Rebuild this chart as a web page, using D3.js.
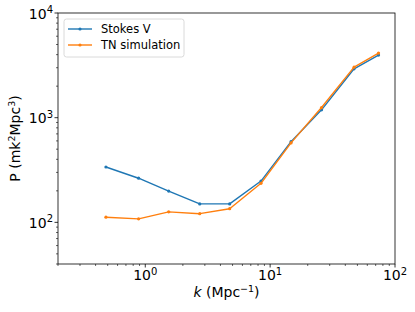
<!DOCTYPE html>
<html>
<head>
<meta charset="utf-8">
<script src="https://cdn.jsdelivr.net/npm/d3@7"></script>
<style>
  body { margin: 0; background: #fff; }
  svg { font-family: "DejaVu Sans", sans-serif; }
</style>
</head>
<body>
<div id="chart"></div>
<script>
// k values (Mpc^-1)
var kVals = [0.484, 0.884, 1.54, 2.73, 4.74, 8.45, 14.7, 25.8, 47, 73.8];
var stokesV = [338, 264, 199, 150, 150, 248, 590, 1188, 2930, 3965];
var tnSim = [112, 108, 126, 121, 135, 236, 574, 1250, 3040, 4140];
var seriesNames = ["Stokes V", "TN simulation"];
var seriesColors = ["#1f77b4", "#ff7f0e"];
var xMajor = [0.1, 1, 10, 100];
var yMajor = [100, 1000, 10000];

var W = 415, H = 312;
var margin = {top: 13, right: 20, bottom: 48, left: 58},
    width = W - margin.left - margin.right,
    height = H - margin.top - margin.bottom;

var svgRoot = d3.select("#chart").append("svg")
    .attr("width", W).attr("height", H);
var svg = svgRoot.append("g")
    .attr("transform", "translate(" + margin.left + "," + margin.top + ")");

var x = d3.scaleLog().domain([0.2, 100]).range([0, width]);
var y = d3.scaleLog().domain([40, 10000]).range([height, 0]);

// minor ticks
function minorTicks(dom) {
  var out = [];
  for (var e = -2; e <= 4; e++) {
    for (var m = 2; m <= 9; m++) {
      var v = m * Math.pow(10, e);
      if (v >= dom[0] * 0.999 && v <= dom[1] * 1.001) out.push(v);
    }
  }
  return out;
}
var xMinor = minorTicks(x.domain());
var yMinor = minorTicks(y.domain());

svg.selectAll(".xminor").data(xMinor).enter().append("line")
  .attr("x1", d => x(d)).attr("x2", d => x(d))
  .attr("y1", height).attr("y2", height + 2)
  .attr("stroke", "#000").attr("stroke-width", 0.6);
svg.selectAll(".yminor").data(yMinor).enter().append("line")
  .attr("x1", -2).attr("x2", 0)
  .attr("y1", d => y(d)).attr("y2", d => y(d))
  .attr("stroke", "#000").attr("stroke-width", 0.6);

var xMaj = xMajor.filter(d => d >= x.domain()[0] && d <= x.domain()[1]);
svg.selectAll(".xmajor").data(xMaj).enter().append("line")
  .attr("x1", d => x(d)).attr("x2", d => x(d))
  .attr("y1", height).attr("y2", height + 3.5)
  .attr("stroke", "#000").attr("stroke-width", 0.8);
svg.selectAll(".ymajor").data(yMajor).enter().append("line")
  .attr("x1", -3.5).attr("x2", 0)
  .attr("y1", d => y(d)).attr("y2", d => y(d))
  .attr("stroke", "#000").attr("stroke-width", 0.8);

function expOf(d) { return Math.round(Math.log10(d)); }

var xl = svg.selectAll(".xlab").data(xMaj).enter().append("text")
  .attr("x", d => x(d)).attr("y", height + 16)
  .attr("text-anchor", "middle")
  .style("font-size", "14px");
xl.append("tspan").text("10");
xl.append("tspan").attr("dy", -5.5).style("font-size", "10px").text(d => expOf(d));

var yl = svg.selectAll(".ylab").data(yMajor).enter().append("text")
  .attr("x", -5).attr("y", d => y(d) + 5.5)
  .attr("text-anchor", "end")
  .style("font-size", "14px");
yl.append("tspan").text("10");
yl.append("tspan").attr("dy", -5.5).style("font-size", "10px").text(d => expOf(d));

// axis labels
var xt = svg.append("text")
  .attr("x", width / 2).attr("y", height + 33)
  .attr("text-anchor", "middle")
  .style("font-size", "14px");
xt.append("tspan").style("font-style", "italic").text("k");
xt.append("tspan").text(" (Mpc");
xt.append("tspan").attr("dy", -5).style("font-size", "9.5px").text("\u22121");
xt.append("tspan").attr("dy", 5).text(")");

var yt = svg.append("text")
  .attr("transform", "translate(" + (-38) + "," + (height / 2) + ") rotate(-90)")
  .attr("text-anchor", "middle")
  .style("font-size", "14px");
yt.append("tspan").text("P (mk");
yt.append("tspan").attr("dy", -5).style("font-size", "9.5px").text("2");
yt.append("tspan").attr("dy", 5).text("Mpc");
yt.append("tspan").attr("dy", -5).style("font-size", "9.5px").text("3");
yt.append("tspan").attr("dy", 5).text(")");

// lines
var series = [stokesV, tnSim];
var line = d3.line().x(d => x(d[0])).y(d => y(d[1]));
series.forEach(function(s, i) {
  var pts = kVals.map((k, j) => [k, s[j]]);
  svg.append("path").datum(pts)
    .attr("d", line)
    .attr("fill", "none")
    .attr("stroke", seriesColors[i])
    .attr("stroke-width", 1.4)
    .attr("stroke-linejoin", "round");
  svg.selectAll(".pt" + i).data(pts).enter().append("circle")
    .attr("cx", d => x(d[0])).attr("cy", d => y(d[1]))
    .attr("r", 1.6).attr("fill", seriesColors[i]);
});

// frame
svg.append("rect").attr("x", 0).attr("y", 0)
  .attr("width", width).attr("height", height)
  .attr("fill", "none").attr("stroke", "#000").attr("stroke-width", 0.8);

// legend
var lg = svg.append("g").attr("transform", "translate(6,6)");
lg.append("rect").attr("width", 120).attr("height", 38)
  .attr("rx", 2.5).attr("fill", "#fff").attr("fill-opacity", 0.8)
  .attr("stroke", "#d0d0d0").attr("stroke-width", 0.8);
seriesNames.forEach(function(n, i) {
  var yy = 10 + i * 16;
  lg.append("line").attr("x1", 4).attr("x2", 28)
    .attr("y1", yy).attr("y2", yy)
    .attr("stroke", seriesColors[i]).attr("stroke-width", 1.4);
  lg.append("circle").attr("cx", 16).attr("cy", yy).attr("r", 1.6)
    .attr("fill", seriesColors[i]);
  lg.append("text").attr("x", 37).attr("y", yy + 4)
    .style("font-size", "11.5px").text(n);
});
</script>
</body>
</html>
